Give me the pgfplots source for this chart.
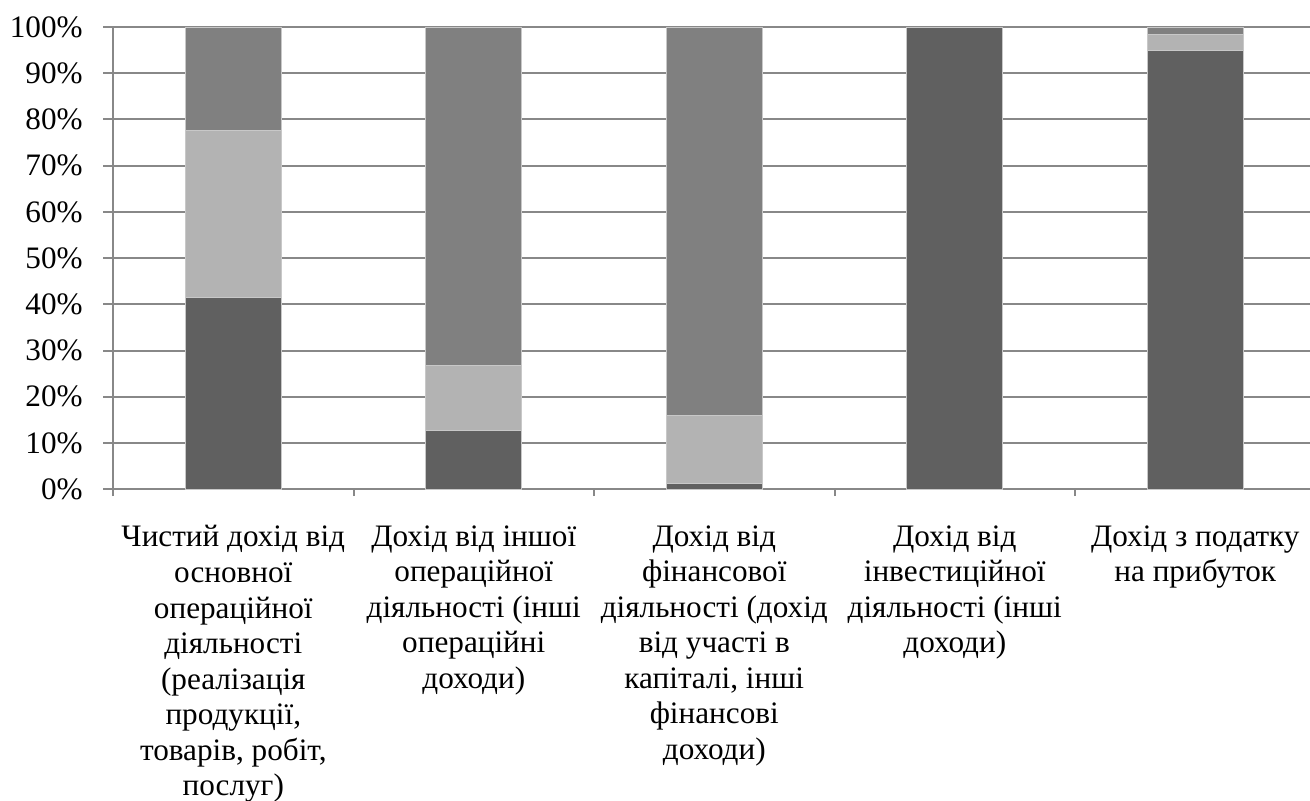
\documentclass[border=0pt]{standalone}
\usepackage{fontspec}
\setmainfont{Liberation Serif}
\usepackage{pgfplots}
\pgfplotsset{compat=1.18}

\definecolor{segdark}{RGB}{96,96,96}
\definecolor{seglight}{RGB}{179,179,179}
\definecolor{segmid}{RGB}{128,128,128}
\definecolor{gridgray}{RGB}{136,136,136}
\definecolor{edgegray}{RGB}{200,200,200}

\newcommand{\lblfont}{\fontsize{15.6}{17.75}\selectfont}

\begin{document}
\begin{tikzpicture}
\begin{axis}[
  scale only axis,
  width=601pt, height=231pt,
  ybar stacked,
  bar width=0.4,
  xmin=-0.5, xmax=4.5,
  ymin=0, ymax=100,
  axis x line*=bottom,
  axis y line*=left,
  axis line style={gridgray, line width=1pt},
  xtick={0,1,2,3,4},
  xticklabels={
    {Чистий дохід від\\основної\\операційної\\діяльності\\(реалізація\\продукції,\\товарів, робіт,\\послуг)},
    {Дохід від іншої\\операційної\\діяльності (інші\\операційні\\доходи)},
    {Дохід від\\фінансової\\діяльності (дохід\\від участі в\\капіталі, інші\\фінансові\\доходи)},
    {Дохід від\\інвестиційної\\діяльності (інші\\доходи)},
    {Дохід з податку\\на прибуток}},
  major x tick style={draw=none},
  minor xtick={-0.5,0.5,1.5,2.5,3.5,4.5},
  minor x tick style={gridgray, line width=1pt},
  minor tick length=3.5pt,
  tick align=outside,
  xticklabel style={font=\lblfont, align=center, anchor=north, inner sep=0pt, yshift=-13pt},
  ytick={0,10,...,100},
  yticklabel={\pgfmathprintnumber[assume math mode=true]{\tick}\%},
  yticklabel style={font=\lblfont, anchor=east, inner sep=0pt, xshift=-10pt},
  major y tick style={gridgray, line width=1pt},
  major tick length=5pt,
  ymajorgrids,
  grid style={gridgray, line width=1pt},
  every axis plot/.append style={draw=edgegray, line width=0.4pt},
]
\addplot[fill=segdark] coordinates {(0,41.5) (1,12.7) (2,1.3) (3,100) (4,94.9)};
\addplot[fill=seglight] coordinates {(0,36.2) (1,14.1) (2,14.6) (3,0) (4,3.4)};
\addplot[fill=segmid] coordinates {(0,22.3) (1,73.2) (2,84.1) (3,0) (4,1.7)};
\coordinate (sw) at (rel axis cs:0,0);
\coordinate (ne) at (rel axis cs:1,1);
\end{axis}
\pgfresetboundingbox
\path[use as bounding box] ([shift={(-56.5pt,-155.5pt)}]sw) rectangle ([shift={(-2.75pt,13.5pt)}]ne);
\end{tikzpicture}
\end{document}
